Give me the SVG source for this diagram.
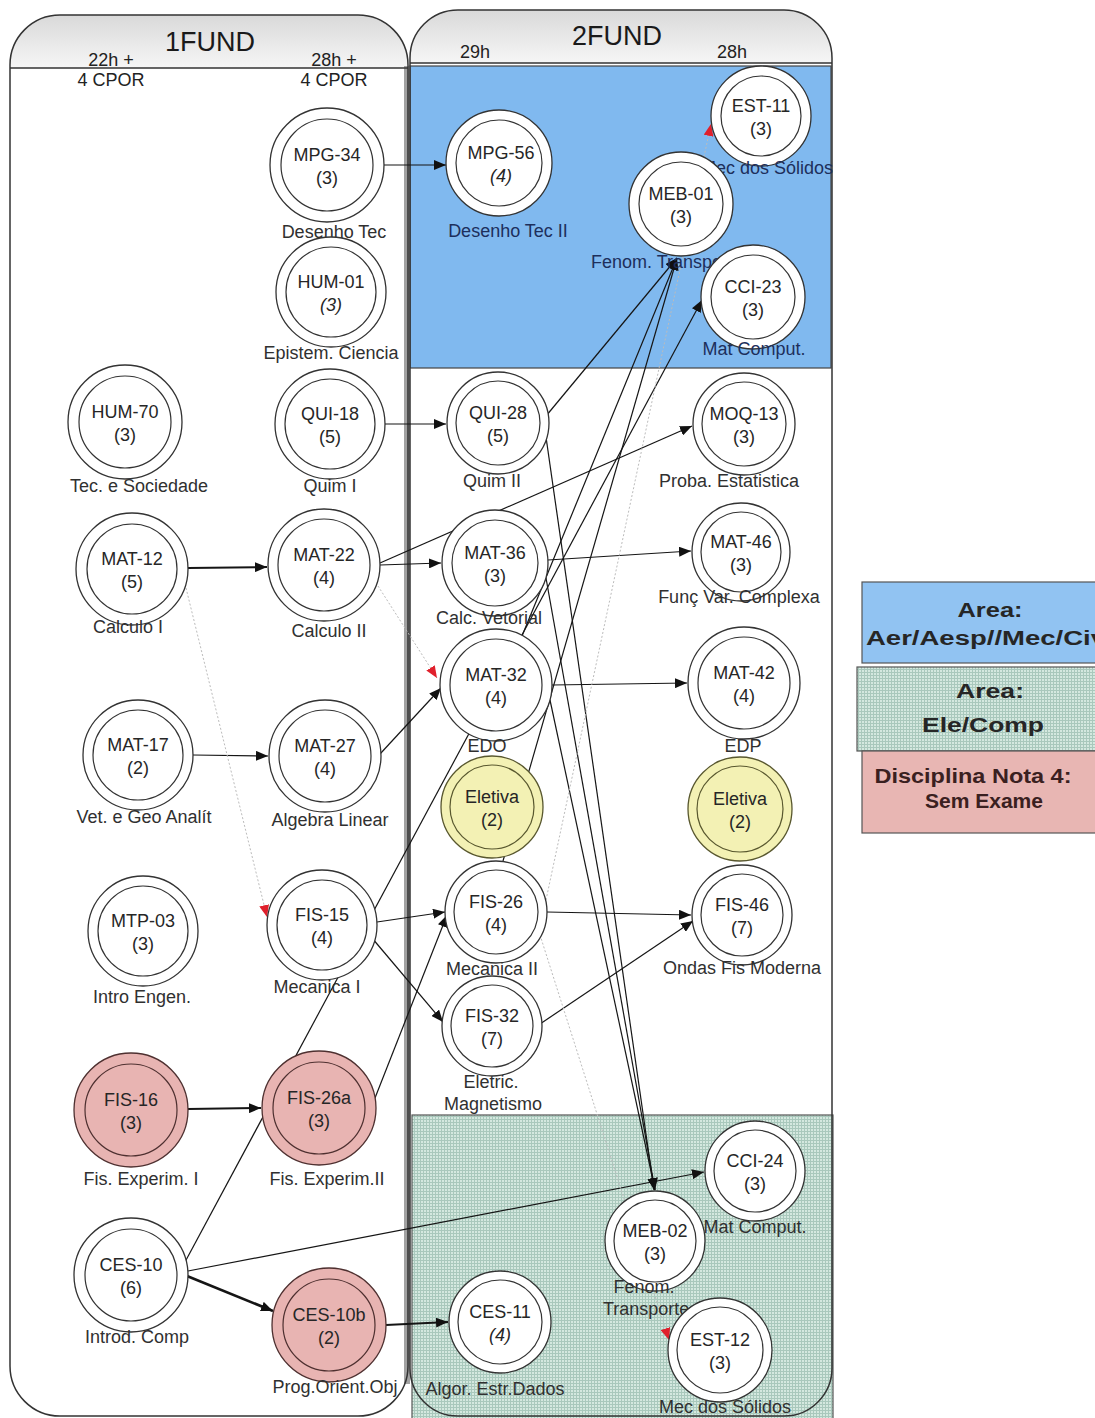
<svg xmlns="http://www.w3.org/2000/svg" width="1095" height="1418" viewBox="0 0 1095 1418">
  <defs>
    <style>
      text { font-family: "Liberation Sans", Arial, sans-serif; }
      .hd { font-size: 18px; fill: #222; text-anchor: middle; }
      .ttl { font-size: 27px; fill: #1a1a1a; text-anchor: middle; }
      .o { fill: #fff; stroke: #333; stroke-width: 1.3; }
      .i { fill: none; stroke: #333; stroke-width: 1.2; }
      .pk .o { fill: #e8b4b2; stroke: #4e3030; }
      .pk .i { stroke: #4e3030; }
      .yl .o { fill: #f3f1b4; stroke: #58572e; }
      .yl .i { stroke: #58572e; }
      .c { font-size: 18px; fill: #262626; text-anchor: middle; }
      .it { font-style: italic; }
      .l { font-size: 18px; fill: #303030; text-anchor: middle; }
      .lb { fill: #1d2f5c; }
      .e { stroke: #151515; stroke-width: 1.2; fill: none; marker-end: url(#ah); }
      .t2 { stroke-width: 2; }
      .t3 { stroke-width: 2.6; }
      .f { stroke: #bcbcbc; stroke-width: 1; stroke-dasharray: 2 2; fill: none; marker-end: url(#ahr); }
      .panel { fill: none; stroke: #333; stroke-width: 1.5; }
      .lg { font-size: 20px; font-weight: bold; fill: #262626; text-anchor: middle; }
    </style>
    <linearGradient id="hdr" x1="0" y1="0" x2="0" y2="1">
      <stop offset="0" stop-color="#d9d9d9"/>
      <stop offset="1" stop-color="#f6f6f6"/>
    </linearGradient>
    <pattern id="grid" width="3" height="3" patternUnits="userSpaceOnUse">
      <rect width="3" height="3" fill="#d4e8df"/>
      <rect width="1" height="3" fill="#a9c8bc"/>
      <rect width="3" height="1" fill="#a9c8bc"/>
    </pattern>
    <marker id="ah" viewBox="0 0 12 10" refX="12" refY="5" markerWidth="12" markerHeight="10" markerUnits="userSpaceOnUse" orient="auto">
      <path d="M0,0 L12,5 L0,10 z" fill="#111"/>
    </marker>
    <marker id="ahr" viewBox="0 0 12 10" refX="12" refY="5" markerWidth="12" markerHeight="10" markerUnits="userSpaceOnUse" orient="auto">
      <path d="M0,0 L12,5 L0,10 z" fill="#e0202c"/>
    </marker>
  </defs>

  <rect width="1095" height="1418" fill="#fff"/>

  <!-- semester panels -->
  <g id="panel-1fund">
    <rect x="10" y="15" width="398" height="1401" rx="50" fill="#fff"/>
    <path d="M10,68 L10,65 A50,50 0 0 1 60,15 L358,15 A50,50 0 0 1 408,65 L408,68 Z" fill="url(#hdr)"/>
  </g>
  <g id="panel-2fund">
    <rect x="410" y="10" width="422" height="1406" rx="48" fill="#fff"/>
    <path d="M410,63 L410,58 A48,48 0 0 1 458,10 L784,10 A48,48 0 0 1 832,58 L832,63 Z" fill="url(#hdr)"/>
  </g>

  <!-- track areas -->
  <rect id="area-aer" x="410" y="66" width="421" height="302" fill="#80b9ef" stroke="#444" stroke-width="1.2"/>
  <rect id="area-ele" x="412" y="1115" width="421" height="306" fill="url(#grid)" stroke="#555" stroke-width="1.2"/>

  <!-- panel outlines and header rules -->
  <rect x="404" y="66" width="6" height="1318" fill="#a2a2a2"/>
  <rect class="panel" x="10" y="15" width="398" height="1401" rx="50"/>
  <rect class="panel" x="410" y="10" width="422" height="1406" rx="48"/>
  <line x1="10" y1="68" x2="408" y2="68" stroke="#333" stroke-width="1.5"/>
  <line x1="410" y1="63" x2="832" y2="63" stroke="#333" stroke-width="1.5"/>

  <g id="headers">
    <text class="ttl" x="210" y="51">1FUND</text>
    <text class="ttl" x="617" y="45">2FUND</text>
    <text class="hd" x="111" y="66">22h +</text>
    <text class="hd" x="111" y="86">4 CPOR</text>
    <text class="hd" x="334" y="66">28h +</text>
    <text class="hd" x="334" y="86">4 CPOR</text>
    <text class="hd" x="475" y="58">29h</text>
    <text class="hd" x="732" y="58">28h</text>
  </g>

  <!-- prerequisite links -->
  <g id="connectors">
    <line class="e" x1="384" y1="165" x2="446" y2="165"/>
    <line class="e" x1="385" y1="424" x2="446" y2="424"/>
    <line class="e t2" x1="188" y1="568" x2="267" y2="567"/>
    <line class="e" x1="193" y1="755" x2="268" y2="756"/>
    <line class="e t2" x1="188" y1="1109" x2="261" y2="1108"/>
    <line class="e t3" x1="187" y1="1276" x2="273" y2="1311"/>
    <line class="e t2" x1="386" y1="1325" x2="448" y2="1322"/>
    <line class="e" x1="380" y1="565" x2="441" y2="563"/>
    <line class="e" x1="380" y1="563" x2="692" y2="426"/>
    <line class="e" x1="380" y1="754" x2="441" y2="688"/>
    <line class="e" x1="377" y1="922" x2="445" y2="912"/>
    <line class="e" x1="372" y1="938" x2="443" y2="1022"/>
    <line class="e" x1="375" y1="1098" x2="447" y2="915"/>
    <line class="e" x1="185" y1="1262" x2="702" y2="300"/>
    <line class="e" x1="188" y1="1271" x2="704" y2="1172"/>
    <line class="e" x1="546" y1="416" x2="677" y2="258"/>
    <line class="e" x1="522" y1="636" x2="677" y2="258"/>
    <line class="e" x1="503" y1="861" x2="677" y2="258"/>
    <line class="e" x1="546" y1="437" x2="654" y2="1190"/>
    <line class="e" x1="546" y1="578" x2="655" y2="1190"/>
    <line class="e" x1="550" y1="700" x2="655" y2="1190"/>
    <line class="e" x1="548" y1="560" x2="691" y2="551"/>
    <line class="e" x1="552" y1="685" x2="687" y2="683"/>
    <line class="e" x1="547" y1="912" x2="691" y2="915"/>
    <line class="e" x1="540" y1="1024" x2="693" y2="921"/>
    <line class="f" x1="186" y1="588" x2="267" y2="917"/>
    <line class="f" x1="378" y1="586" x2="437" y2="678"/>
    <line class="f" x1="546" y1="900" x2="711" y2="124"/>
    <line class="f" x1="540" y1="935" x2="669" y2="1340"/>
  </g>

  <!-- 1FUND, first column -->
  <g id="hum-70"><circle class="o" cx="125" cy="422" r="57"/><circle class="i" cx="125" cy="422" r="46"/>
    <text class="c" x="125" y="418">HUM-70</text><text class="c" x="125" y="441">(3)</text>
    <text class="l" x="139" y="492">Tec. e Sociedade</text></g>
  <g id="mat-12"><circle class="o" cx="132" cy="569" r="56"/><circle class="i" cx="132" cy="569" r="45"/>
    <text class="c" x="132" y="565">MAT-12</text><text class="c" x="132" y="588">(5)</text>
    <text class="l" x="128" y="633">Calculo I</text></g>
  <g id="mat-17"><circle class="o" cx="138" cy="755" r="55"/><circle class="i" cx="138" cy="755" r="45"/>
    <text class="c" x="138" y="751">MAT-17</text><text class="c" x="138" y="774">(2)</text>
    <text class="l" x="144" y="823">Vet. e Geo Analít</text></g>
  <g id="mtp-03"><circle class="o" cx="143" cy="931" r="55"/><circle class="i" cx="143" cy="931" r="45"/>
    <text class="c" x="143" y="927">MTP-03</text><text class="c" x="143" y="950">(3)</text>
    <text class="l" x="142" y="1003">Intro Engen.</text></g>
  <g id="fis-16" class="pk"><circle class="o" cx="131" cy="1110" r="57"/><circle class="i" cx="131" cy="1110" r="46"/>
    <text class="c" x="131" y="1106">FIS-16</text><text class="c" x="131" y="1129">(3)</text>
    <text class="l" x="141" y="1185">Fis. Experim. I</text></g>
  <g id="ces-10"><circle class="o" cx="131" cy="1275" r="57"/><circle class="i" cx="131" cy="1275" r="46"/>
    <text class="c" x="131" y="1271">CES-10</text><text class="c" x="131" y="1294">(6)</text>
    <text class="l" x="137" y="1343">Introd. Comp</text></g>

  <!-- 1FUND, second column -->
  <g id="mpg-34"><circle class="o" cx="327" cy="165" r="57"/><circle class="i" cx="327" cy="165" r="46"/>
    <text class="c" x="327" y="161">MPG-34</text><text class="c" x="327" y="184">(3)</text>
    <text class="l" x="334" y="238">Desenho Tec</text></g>
  <g id="hum-01"><circle class="o" cx="331" cy="292" r="55"/><circle class="i" cx="331" cy="292" r="45"/>
    <text class="c" x="331" y="288">HUM-01</text><text class="c it" x="331" y="311">(3)</text>
    <text class="l" x="331" y="359">Epistem. Ciencia</text></g>
  <g id="qui-18"><circle class="o" cx="330" cy="424" r="55"/><circle class="i" cx="330" cy="424" r="45"/>
    <text class="c" x="330" y="420">QUI-18</text><text class="c" x="330" y="443">(5)</text>
    <text class="l" x="330" y="492">Quim I</text></g>
  <g id="mat-22"><circle class="o" cx="324" cy="565" r="56"/><circle class="i" cx="324" cy="565" r="46"/>
    <text class="c" x="324" y="561">MAT-22</text><text class="c" x="324" y="584">(4)</text>
    <text class="l" x="329" y="637">Calculo II</text></g>
  <g id="mat-27"><circle class="o" cx="325" cy="756" r="56"/><circle class="i" cx="325" cy="756" r="46"/>
    <text class="c" x="325" y="752">MAT-27</text><text class="c" x="325" y="775">(4)</text>
    <text class="l" x="330" y="826">Algebra Linear</text></g>
  <g id="fis-15"><circle class="o" cx="322" cy="925" r="55"/><circle class="i" cx="322" cy="925" r="45"/>
    <text class="c" x="322" y="921">FIS-15</text><text class="c" x="322" y="944">(4)</text>
    <text class="l" x="317" y="993">Mecanica I</text></g>
  <g id="fis-26a" class="pk"><circle class="o" cx="319" cy="1108" r="57"/><circle class="i" cx="319" cy="1108" r="46"/>
    <text class="c" x="319" y="1104">FIS-26a</text><text class="c" x="319" y="1127">(3)</text>
    <text class="l" x="327" y="1185">Fis. Experim.II</text></g>
  <g id="ces-10b" class="pk"><circle class="o" cx="329" cy="1325" r="57"/><circle class="i" cx="329" cy="1325" r="46"/>
    <text class="c" x="329" y="1321">CES-10b</text><text class="c" x="329" y="1344">(2)</text>
    <text class="l" x="335" y="1393">Prog.Orient.Obj</text></g>

  <!-- 2FUND, first column -->
  <g id="mpg-56"><circle class="o" cx="499" cy="163" r="53"/><circle class="i" cx="499" cy="163" r="43"/>
    <text class="c" x="501" y="159">MPG-56</text><text class="c it" x="501" y="182">(4)</text>
    <text class="l lb" x="508" y="237">Desenho Tec II</text></g>
  <g id="qui-28"><circle class="o" cx="498" cy="423" r="51"/><circle class="i" cx="498" cy="423" r="42"/>
    <text class="c" x="498" y="419">QUI-28</text><text class="c" x="498" y="442">(5)</text>
    <text class="l" x="492" y="487">Quim II</text></g>
  <g id="mat-36"><circle class="o" cx="495" cy="563" r="53"/><circle class="i" cx="495" cy="563" r="43"/>
    <text class="c" x="495" y="559">MAT-36</text><text class="c" x="495" y="582">(3)</text>
    <text class="l" x="489" y="624">Calc. Vetorial</text></g>
  <g id="mat-32"><circle class="o" cx="496" cy="685" r="56"/><circle class="i" cx="496" cy="685" r="46"/>
    <text class="c" x="496" y="681">MAT-32</text><text class="c" x="496" y="704">(4)</text>
    <text class="l" x="487" y="752">EDO</text></g>
  <g id="eletiva-1" class="yl"><circle class="o" cx="492" cy="807" r="51"/><circle class="i" cx="492" cy="807" r="42"/>
    <text class="c" x="492" y="803">Eletiva</text><text class="c" x="492" y="826">(2)</text></g>
  <g id="fis-26"><circle class="o" cx="496" cy="912" r="51"/><circle class="i" cx="496" cy="912" r="42"/>
    <text class="c" x="496" y="908">FIS-26</text><text class="c" x="496" y="931">(4)</text>
    <text class="l" x="492" y="975">Mecanica II</text></g>
  <g id="fis-32"><circle class="o" cx="492" cy="1026" r="50"/><circle class="i" cx="492" cy="1026" r="41"/>
    <text class="c" x="492" y="1022">FIS-32</text><text class="c" x="492" y="1045">(7)</text>
    <text class="l" x="491" y="1088">Eletric.</text><text class="l" x="493" y="1110">Magnetismo</text></g>
  <g id="ces-11"><circle class="o" cx="500" cy="1322" r="51"/><circle class="i" cx="500" cy="1322" r="42"/>
    <text class="c" x="500" y="1318">CES-11</text><text class="c it" x="500" y="1341">(4)</text>
    <text class="l" x="495" y="1395">Algor. Estr.Dados</text></g>

  <!-- 2FUND, second column -->
  <g id="est-11"><circle class="o" cx="761" cy="116" r="50"/><circle class="i" cx="761" cy="116" r="40"/>
    <text class="c" x="761" y="112">EST-11</text><text class="c" x="761" y="135">(3)</text>
    <text class="l lb" x="833" y="174" style="text-anchor:end">Mec dos Sólidos</text></g>
  <g id="meb-01"><circle class="o" cx="681" cy="204" r="52"/><circle class="i" cx="681" cy="204" r="42"/>
    <text class="c" x="681" y="200">MEB-01</text><text class="c" x="681" y="223">(3)</text>
    <text class="l lb" x="591" y="268" style="text-anchor:start">Fenom. Transporte</text></g>
  <g id="cci-23"><circle class="o" cx="753" cy="297" r="52"/><circle class="i" cx="753" cy="297" r="42"/>
    <text class="c" x="753" y="293">CCI-23</text><text class="c" x="753" y="316">(3)</text>
    <text class="l lb" x="754" y="355">Mat Comput.</text></g>
  <g id="moq-13"><circle class="o" cx="744" cy="424" r="51"/><circle class="i" cx="744" cy="424" r="42"/>
    <text class="c" x="744" y="420">MOQ-13</text><text class="c" x="744" y="443">(3)</text>
    <text class="l" x="729" y="487">Proba. Estatistica</text></g>
  <g id="mat-46"><circle class="o" cx="741" cy="552" r="49"/><circle class="i" cx="741" cy="552" r="40"/>
    <text class="c" x="741" y="548">MAT-46</text><text class="c" x="741" y="571">(3)</text>
    <text class="l" x="739" y="603">Funç Var. Complexa</text></g>
  <g id="mat-42"><circle class="o" cx="744" cy="683" r="56"/><circle class="i" cx="744" cy="683" r="46"/>
    <text class="c" x="744" y="679">MAT-42</text><text class="c" x="744" y="702">(4)</text>
    <text class="l" x="743" y="752">EDP</text></g>
  <g id="eletiva-2" class="yl"><circle class="o" cx="740" cy="809" r="52"/><circle class="i" cx="740" cy="809" r="43"/>
    <text class="c" x="740" y="805">Eletiva</text><text class="c" x="740" y="828">(2)</text></g>
  <g id="fis-46"><circle class="o" cx="742" cy="915" r="50"/><circle class="i" cx="742" cy="915" r="41"/>
    <text class="c" x="742" y="911">FIS-46</text><text class="c" x="742" y="934">(7)</text>
    <text class="l" x="742" y="974">Ondas Fis Moderna</text></g>
  <g id="cci-24"><circle class="o" cx="755" cy="1171" r="50"/><circle class="i" cx="755" cy="1171" r="41"/>
    <text class="c" x="755" y="1167">CCI-24</text><text class="c" x="755" y="1190">(3)</text>
    <text class="l" x="755" y="1233">Mat Comput.</text></g>
  <g id="meb-02"><circle class="o" cx="655" cy="1241" r="50"/><circle class="i" cx="655" cy="1241" r="41"/>
    <text class="c" x="655" y="1237">MEB-02</text><text class="c" x="655" y="1260">(3)</text>
    <text class="l" x="644" y="1293">Fenom.</text><text class="l" x="603" y="1315" style="text-anchor:start">Transporte</text></g>
  <g id="est-12"><circle class="o" cx="720" cy="1350" r="52"/><circle class="i" cx="720" cy="1350" r="43"/>
    <text class="c" x="720" y="1346">EST-12</text><text class="c" x="720" y="1369">(3)</text>
    <text class="l" x="725" y="1413">Mec dos Sólidos</text></g>

  <!-- legend -->
  <g id="legend">
    <rect x="862" y="582" width="260" height="81" fill="#91c3f2" stroke="#555" stroke-width="1.2"/>
    <text class="lg" x="990" y="617" textLength="65" lengthAdjust="spacingAndGlyphs">Area:</text>
    <text class="lg" x="866" y="645" style="text-anchor:start" textLength="240" lengthAdjust="spacingAndGlyphs">Aer/Aesp//Mec/Civ</text>
    <rect x="857" y="667" width="265" height="84" fill="url(#grid)" stroke="#555" stroke-width="1.2"/>
    <text class="lg" x="990" y="698" textLength="68" lengthAdjust="spacingAndGlyphs">Area:</text>
    <text class="lg" x="983" y="732" textLength="122" lengthAdjust="spacingAndGlyphs">Ele/Comp</text>
    <rect x="862" y="751" width="260" height="82" fill="#e8b6b3" stroke="#555" stroke-width="1.2"/>
    <text class="lg" x="973" y="783" textLength="197" lengthAdjust="spacingAndGlyphs" style="fill:#3a2020">Disciplina Nota 4:</text>
    <text class="lg" x="984" y="808" textLength="118" lengthAdjust="spacingAndGlyphs" style="fill:#3a2020">Sem Exame</text>
  </g>
</svg>
